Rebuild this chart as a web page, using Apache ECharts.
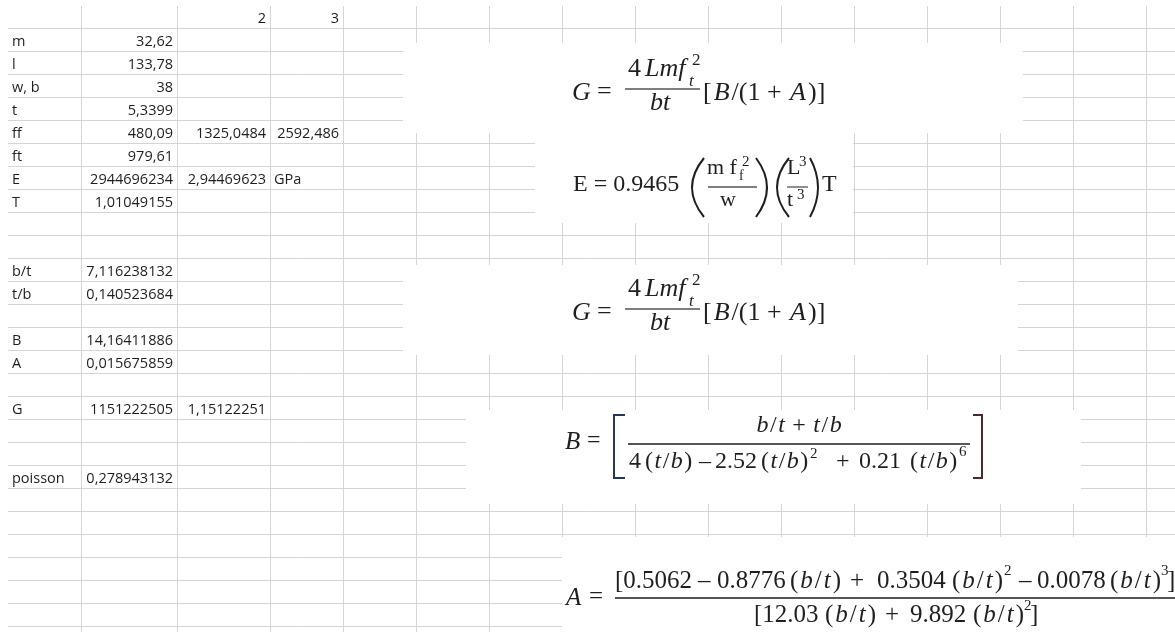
<!DOCTYPE html>
<html>
<head>
<meta charset="utf-8">
<title>Sheet</title>
<script src="https://cdn.jsdelivr.net/npm/echarts@6/dist/echarts.min.js"></script>
<style>
  html, body { margin: 0; padding: 0; background: #fff; }
  #sheet { width: 1175px; height: 632px; }
</style>
</head>
<body>
<div id="sheet"></div>
<script>
// header row (columns A..D) and the values of rows 1..20
const headerRow = [null, null, 2, 3];
const rowLabels = ['m', 'l', 'w, b', 't', 'ff', 'ft', 'E', 'T', null, null,
  'b/t', 't/b', null, 'B', 'A', null, 'G', null, null, 'poisson'];
const colB = [32.62, 133.78, 38, 5.3399, 480.09, 979.61, 2944696234, 1.01049155, null, null,
  7.116238132, 0.140523684, null, 14.16411886, 0.015675859, null, 1151222505, null, null, 0.278943132];
const colC = [null, null, null, null, 1325.0484, null, 2.94469623, null, null, null,
  null, null, null, null, null, null, 1.15122251, null, null, null];
const colD = [null, null, null, null, 2592.486, null, 'GPa', null, null, null,
  null, null, null, null, null, null, null, null, null, null];

// sheet layout
const colEdges = [8, 81, 177, 270, 343, 416, 489, 562, 635, 708, 781, 854, 927, 1000, 1073, 1146];
const firstLine = 28;
const rowH = 23;
const lineCount = 27;
// pasted formula pictures cover the grid
const pictures = [
  [403, 43, 1023, 133],
  [535, 133, 853, 223],
  [403, 265, 1018, 355],
  [466, 410, 1081, 504],
  [562, 537, 1175, 632]
];

const W = 1175, H = 632;
const grey = '#d5d5d5';
const ink = '#1f1f1f';
const sans = '"Open Sans", "Noto Sans", sans-serif';
const serif = '"Liberation Serif", "Times New Roman", serif';

function fmt(v) {
  return typeof v === 'number' ? String(v).replace('.', ',') : v;
}

const cells = [];
headerRow.forEach((v, c) => { if (v != null) cells.push({ col: c, row: 0, v: v }); });
[rowLabels, colB, colC, colD].forEach((col, c) => {
  col.forEach((v, i) => { if (v != null) cells.push({ col: c, row: i + 1, v: v }); });
});

const lines = [];
for (let k = 0; k < lineCount; k++) {
  const y = firstLine + k * rowH;
  lines.push([colEdges[0], y, W, y]);
}
colEdges.slice(1).forEach(x => lines.push([x, 6, x, H]));

// formula helpers
function txt(x, y, text, size, italic) {
  return {
    type: 'text', x: x, y: y, z: 100,
    style: {
      text: text, fill: ink, fontFamily: serif, fontSize: size,
      fontStyle: italic ? 'italic' : 'normal', align: 'left', verticalAlign: 'middle'
    }
  };
}
function rich(x, y, text, size, pad) {
  const p = pad || 0;
  return {
    type: 'text', x: x, y: y, z: 100,
    style: {
      text: text, fill: ink, align: 'left', verticalAlign: 'middle',
      rich: {
        r: { fontFamily: serif, fontSize: size, fill: ink },
        i: { fontFamily: serif, fontSize: size, fontStyle: 'italic', fill: ink, padding: [0, p, 0, p] }
      }
    }
  };
}
function bar(x1, x2, y, w) {
  return { type: 'line', z: 100, shape: { x1: x1, y1: y, x2: x2, y2: y }, style: { stroke: '#555', lineWidth: w } };
}
function paren(x, xc, y1, y2) {
  return {
    type: 'bezierCurve', z: 100,
    shape: { x1: x, y1: y1, x2: x, y2: y2, cpx1: xc, cpy1: (y1 + y2) / 2 },
    style: { stroke: ink, lineWidth: 2, fill: null }
  };
}
function bracket(points, color) {
  return { type: 'polyline', z: 100, shape: { points: points }, style: { stroke: color, lineWidth: 2, fill: null } };
}

const tb = '{r|(}{i|t}{r|/}{i|b}{r|)}';
const bt = '{r|(}{i|b}{r|/}{i|t}{r|)}';

function gFormula(dy) {
  return [
    txt(572, 93 + dy, 'G', 26, true),
    txt(597, 92 + dy, '=', 26),
    txt(628, 69 + dy, '4', 26),
    txt(645, 69 + dy, 'Lmf', 26, true),
    txt(689, 82 + dy, 't', 17, true),
    txt(692, 61 + dy, '2', 17),
    bar(625, 700, 89 + dy, 1.3),
    txt(650, 103 + dy, 'bt', 26, true),
    rich(703, 93 + dy, '{r|[}{i|B}{r|/(1 + }{i|A}{r|)]}', 26, 2)
  ];
}

const eFormula = [
  txt(573, 185, 'E = 0.9465', 24),
  paren(704, 680, 158, 217),
  txt(707, 168, 'm f', 22),
  txt(739, 176, 'f', 14),
  txt(742, 162, '2', 15),
  bar(708, 757, 187, 1.3),
  txt(720, 200, 'w', 22),
  paren(756, 778, 158, 217),
  paren(789, 765, 158, 217),
  txt(787, 168, 'L', 22),
  txt(799, 162, '3', 15),
  bar(787, 808, 187, 1.3),
  txt(787, 200, 't', 22),
  txt(797, 195, '3', 15),
  paren(810, 826, 158, 217),
  txt(822, 185, 'T', 24)
];

const bFormula = [
  txt(565, 442, 'B', 25, true),
  txt(587, 441, '=', 24),
  bracket([[625, 415], [614, 415], [614, 478], [625, 478]], '#24395a'),
  rich(755, 426, '{i|b}{r|/}{i|t}{r| + }{i|t}{r|/}{i|b}', 24, 1.5),
  bar(628, 970, 444, 2),
  txt(629, 462, '4', 24),
  rich(645, 462, tb, 24, 1.5),
  txt(699, 462, '\u2013', 24),
  txt(715, 462, '2.52', 24),
  rich(761, 462, tb, 24, 1.5),
  txt(810, 454, '2', 15),
  txt(836, 462, '+', 24),
  txt(859, 462, '0.21', 24),
  rich(910, 462, tb, 24, 1.5),
  txt(959, 452, '6', 15),
  bracket([[973, 415], [982, 415], [982, 478], [973, 478]], '#4a2a2a')
];

const aFormula = [
  txt(566, 598, 'A', 25, true),
  txt(589, 597, '=', 25),
  bar(615, 1175, 598, 2),
  txt(615, 581, '[0.5062', 25),
  txt(698, 581, '\u2013', 25),
  txt(717, 581, '0.8776', 25),
  rich(790, 581, bt, 25, 2),
  txt(850, 581, '+', 25),
  txt(877, 581, '0.3504', 25),
  rich(952, 581, bt, 25, 2),
  txt(1004, 571, '2', 15),
  txt(1019, 581, '\u2013', 25),
  txt(1037, 581, '0.0078', 25),
  rich(1110, 581, bt, 25, 2),
  txt(1161, 571, '3', 15),
  txt(1167, 581, ']', 25),
  txt(754, 615, '[12.03', 25),
  rich(825, 615, bt, 25, 2),
  txt(885, 615, '+', 25),
  txt(910, 615, '9.892', 25),
  rich(973, 615, bt, 25, 2),
  txt(1024, 606, '2', 15),
  txt(1030, 615, ']', 25)
];

const chart = echarts.init(document.getElementById('sheet'));
chart.setOption({
  animation: false,
  backgroundColor: '#fff',
  grid: { left: 0, right: 0, top: 0, bottom: 0 },
  xAxis: { type: 'value', min: 0, max: W, show: false },
  yAxis: { type: 'value', min: 0, max: H, inverse: true, show: false },
  graphic: gFormula(0).concat(eFormula, gFormula(220), bFormula, aFormula),
  series: [
    {
      type: 'custom',
      name: 'gridlines',
      silent: true,
      z: 2,
      encode: { x: [0, 2], y: [1, 3] },
      data: lines,
      renderItem: function (params, api) {
        const a = api.coord([api.value(0), api.value(1)]);
        const b = api.coord([api.value(2), api.value(3)]);
        const vert = a[0] === b[0];
        return {
          type: 'line',
          shape: {
            x1: Math.round(a[0]) + (vert ? 0.5 : 0), y1: Math.round(a[1]) + (vert ? 0 : 0.5),
            x2: Math.round(b[0]) + (vert ? 0.5 : 0), y2: Math.round(b[1]) + (vert ? 0 : 0.5)
          },
          style: { stroke: grey, lineWidth: 1 }
        };
      }
    },
    {
      type: 'custom',
      name: 'pictures',
      silent: true,
      z: 3,
      encode: { x: [0, 2], y: [1, 3] },
      data: pictures,
      renderItem: function (params, api) {
        const a = api.coord([api.value(0), api.value(1)]);
        const b = api.coord([api.value(2), api.value(3)]);
        return {
          type: 'rect',
          shape: { x: a[0], y: a[1], width: b[0] - a[0], height: b[1] - a[1] },
          style: { fill: '#fff' }
        };
      }
    },
    {
      type: 'custom',
      name: 'cells',
      silent: true,
      z: 4,
      data: cells.map(c => [colEdges[c.col], firstLine + c.row * rowH]),
      renderItem: function (params, api) {
        const cell = cells[params.dataIndex];
        const isNum = typeof cell.v === 'number';
        const left = colEdges[cell.col];
        const right = colEdges[cell.col + 1];
        const bottom = firstLine + cell.row * rowH;
        const p = api.coord([isNum ? right - 4 : left + 4, bottom - 9]);
        return {
          type: 'text',
          x: p[0], y: p[1],
          style: {
            text: fmt(cell.v), fill: ink, fontFamily: sans, fontSize: 14.5,
            align: isNum ? 'right' : 'left', verticalAlign: 'middle'
          }
        };
      }
    }
  ]
});
</script>
</body>
</html>
